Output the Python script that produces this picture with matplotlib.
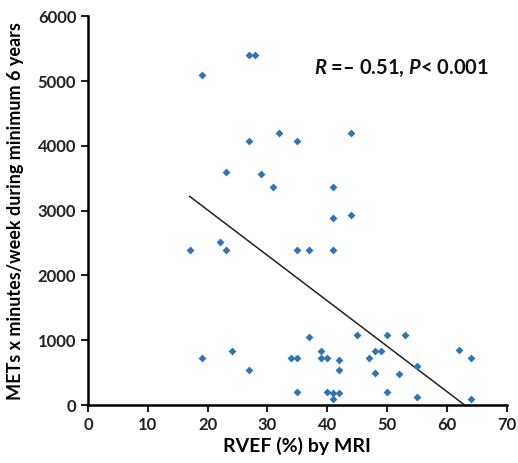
import matplotlib
matplotlib.use('Agg')
import matplotlib.pyplot as plt

# RVEF (%) vs METs x minutes/week
rvef = [19, 27, 28, 27, 32, 35, 44, 23, 29, 31, 41, 41, 44,
        17, 22, 23, 35, 37, 41,
        19, 24, 27, 34, 35, 35, 37, 45, 50, 53, 62, 64,
        39, 39, 40, 42, 42, 47, 48, 49, 48, 52, 55,
        40, 41, 42, 41, 50, 55, 64]
mets = [5100, 5400, 5400, 4080, 4200, 4080, 4200, 3600, 3570, 3360, 3360, 2880, 2940,
        2400, 2520, 2400, 2400, 2400, 2400,
        720, 840, 540, 720, 720, 200, 1050, 1080, 1080, 1080, 850, 720,
        840, 720, 720, 700, 540, 720, 840, 840, 500, 480, 600,
        200, 180, 180, 90, 200, 120, 90]

# regression line end points
trend_x = [17, 63]
trend_y = [3220, 0]

x_ticks = [0, 10, 20, 30, 40, 50, 60, 70]
y_ticks = [0, 1000, 2000, 3000, 4000, 5000, 6000]

plt.rcParams['font.family'] = ['Lato', 'DejaVu Sans']
plt.rcParams['font.weight'] = 'bold'
plt.rcParams['mathtext.fontset'] = 'custom'
plt.rcParams['mathtext.rm'] = 'Lato:bold'
plt.rcParams['mathtext.it'] = 'Lato:bold:italic'

fig = plt.figure(figsize=(5.18, 4.63), dpi=100)
ax = fig.add_axes([0.170, 0.125, 0.808, 0.84])

ax.scatter(rvef, mets, marker='D', s=16, color='#2e75b6', zorder=3, linewidths=0)
ax.plot(trend_x, trend_y, color='#222222', linewidth=1.1, zorder=2)

ax.set_xlim(0, 70)
ax.set_ylim(0, 6000)
ax.set_xticks(x_ticks)
ax.set_yticks(y_ticks)

ax.spines['top'].set_visible(False)
ax.spines['right'].set_visible(False)
ax.spines['left'].set_linewidth(1.8)
ax.spines['bottom'].set_linewidth(1.8)
ax.tick_params(direction='out', length=5, width=1.5, labelsize=12, colors='#222222')

ax.set_xlabel('RVEF (%) by MRI', fontsize=14, fontweight='bold', labelpad=3)
ax.set_ylabel('METs x minutes/week during minimum 6 years', fontsize=13, fontweight='bold', labelpad=10)

ax.text(0.75, 0.865, r'$R$ =– 0.51, $P$< 0.001', transform=ax.transAxes,
        ha='center', va='center', fontsize=14.5, fontweight='bold', color='#111111')

fig.savefig('out.png', dpi=100)
